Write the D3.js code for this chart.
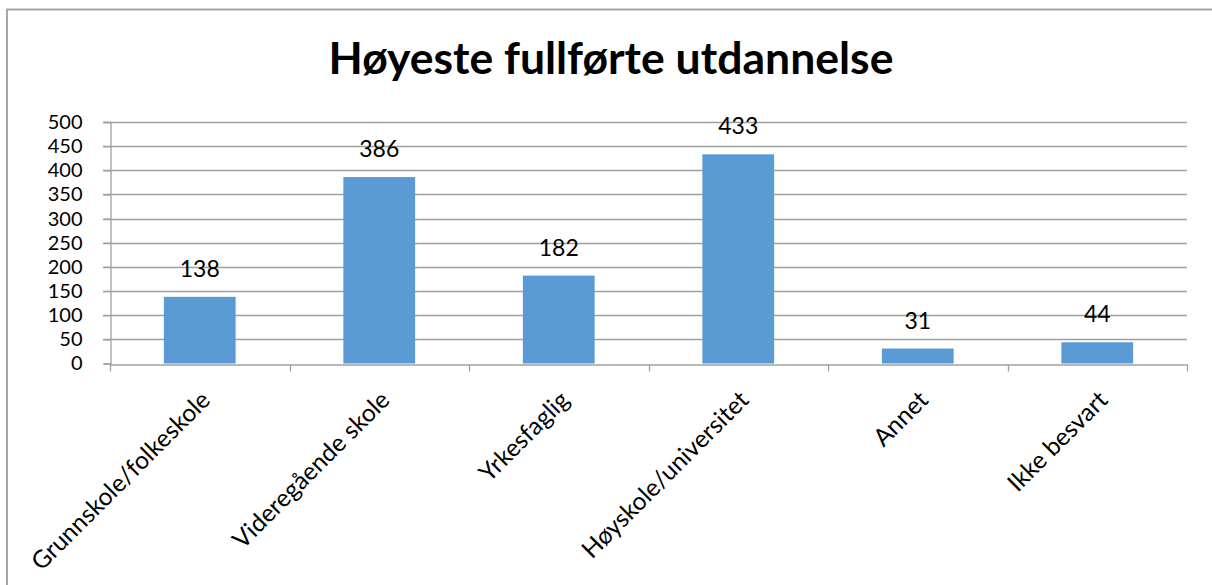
<!DOCTYPE html>
<html>
<head>
<meta charset="utf-8">
<script src="https://cdn.jsdelivr.net/npm/d3@7"></script>
<style>
  html, body { margin: 0; padding: 0; background: #fff; }
  svg { display: block; }
</style>
</head>
<body>
<svg id="chart" width="1212" height="585"></svg>
<script>
const categories = ["Grunnskole/folkeskole", "Videregående skole", "Yrkesfaglig", "Høyskole/universitet", "Annet", "Ikke besvart"];
const values = [138, 386, 182, 433, 31, 44];
const yTicks = [0, 50, 100, 150, 200, 250, 300, 350, 400, 450, 500];
const title = "Høyeste fullførte utdannelse";

const W = 1212, H = 585;
const margin = { left: 110, right: 25, top: 122, bottom: 222 };
const svg = d3.select("#chart");
const font = "Lato, 'Open Sans', sans-serif";

// outer chart border
svg.append("rect")
  .attr("x", 7).attr("y", 9.5)
  .attr("width", W + 10).attr("height", H + 10)
  .attr("fill", "none").attr("stroke", "#a6a6a6").attr("stroke-width", 2);

const x = d3.scaleBand().domain(categories)
  .range([margin.left, W - margin.right]).paddingInner(0.6).paddingOuter(0.3);
const xb = d3.scaleBand().domain(categories).range([margin.left, W - margin.right]);
const y = d3.scaleLinear().domain([0, 500]).range([H - margin.bottom + 0.5, margin.top]);

// gridlines
svg.append("g").selectAll("line").data(yTicks.filter(d => d > 0)).join("line")
  .attr("x1", margin.left - 7).attr("x2", W - margin.right)
  .attr("y1", d => Math.round(y(d)) + 0.5).attr("y2", d => Math.round(y(d)) + 0.5)
  .attr("stroke", "#a0a0a0").attr("stroke-width", 1.3);

// y axis
const yAxis = d3.axisLeft(y).tickValues(yTicks).tickSize(7).tickPadding(21);
const gy = svg.append("g").attr("transform", `translate(${margin.left + 0.5},0)`).call(yAxis);
gy.select(".domain").attr("stroke", "#a0a0a0").attr("stroke-width", 1.3);
gy.selectAll(".tick line").attr("stroke", "#a0a0a0").attr("stroke-width", 1.3);
gy.selectAll(".tick text").attr("font-family", font).attr("font-size", 20).attr("fill", "#000");

// bars
svg.append("g").selectAll("rect").data(values).join("rect")
  .attr("x", (d, i) => x(categories[i]))
  .attr("width", x.bandwidth())
  .attr("y", d => y(d))
  .attr("height", d => y(0) - y(d))
  .attr("fill", "#5b9bd5");

// x axis
const xAxis = d3.axisBottom(xb).tickSize(0).tickFormat("");
const gx = svg.append("g").attr("transform", `translate(0,${Math.round(y(0)) + 0.5})`).call(xAxis);
gx.select(".domain").attr("stroke", "#a0a0a0").attr("stroke-width", 1.3);
// category boundary ticks
const bounds = categories.map(c => xb(c)).concat([W - margin.right]);
gx.selectAll(".bt").data(bounds).join("line").attr("class", "bt")
  .attr("x1", d => Math.round(d) + 0.5).attr("x2", d => Math.round(d) + 0.5)
  .attr("y1", 0).attr("y2", 7)
  .attr("stroke", "#a0a0a0").attr("stroke-width", 1.3);

// x labels rotated
svg.append("g").selectAll("text").data(categories).join("text")
  .attr("transform", c => `translate(${xb(c) + xb.bandwidth() / 2 + 12},${y(0) + 38}) rotate(-45)`)
  .attr("text-anchor", "end")
  .attr("font-family", font).attr("font-size", 24.5).attr("fill", "#000")
  .text(c => c);

// data labels
svg.append("g").selectAll("text").data(values).join("text")
  .attr("x", (d, i) => x(categories[i]) + x.bandwidth() / 2)
  .attr("y", d => y(d) - 20)
  .attr("text-anchor", "middle")
  .attr("font-family", font).attr("font-size", 23).attr("fill", "#000")
  .text(d => d);

// title
svg.append("text")
  .attr("x", 611).attr("y", 74)
  .attr("text-anchor", "middle")
  .attr("font-family", font).attr("font-weight", "bold").attr("font-size", 44.5).attr("fill", "#000")
  .text(title);
</script>
</body>
</html>
